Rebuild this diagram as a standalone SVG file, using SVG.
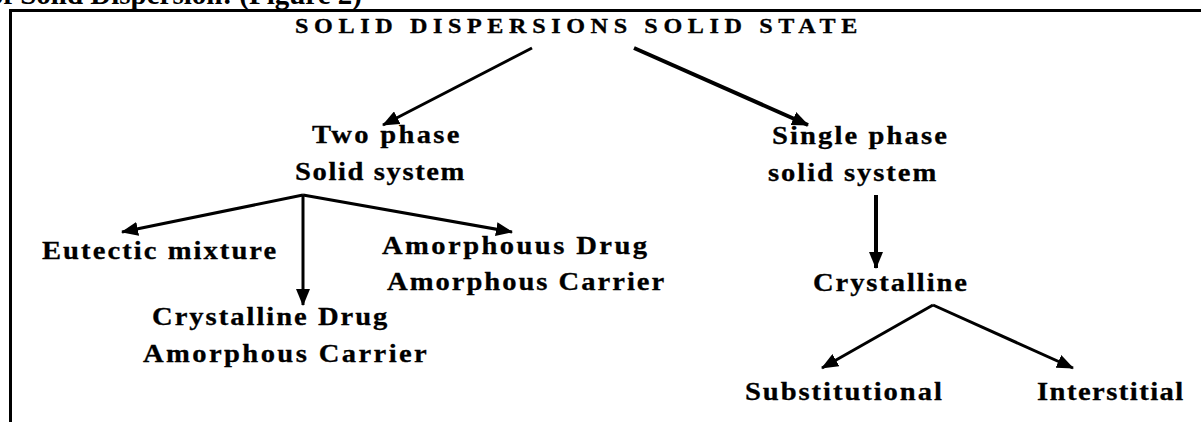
<svg xmlns="http://www.w3.org/2000/svg" width="1201" height="422" viewBox="0 0 1201 422">
<style>
text{font-family:"Liberation Serif","Times New Roman",serif;font-weight:bold;fill:#000}
.t{font-size:26px;stroke:#000;stroke-width:0.3}
.h{font-size:21px;stroke:#000;stroke-width:0.3}
.cap{font-size:29px}
.c{stroke:#000;fill:none;stroke-width:3}
.w{stroke-width:4}
</style>
<defs>
<marker id="ah" markerUnits="userSpaceOnUse" markerWidth="17" markerHeight="14" refX="16" refY="7" orient="auto">
<path d="M0,0 L17,7 L0,14 z" fill="#000"/>
</marker>
</defs>
<rect width="1201" height="422" fill="#fff"/>
<text class="cap" x="362" y="4" text-anchor="end">of Solid Dispersion: (Figure 2)</text>
<path d="M10.5,440 V10.5 H1210" stroke="#000" stroke-width="3" fill="none"/>
<g id="connectors">
<line class="c" x1="532" y1="48" x2="383" y2="125" marker-end="url(#ah)"/>
<line class="c w" x1="634" y1="48" x2="808" y2="125" marker-end="url(#ah)"/>
<line class="c" x1="303" y1="195" x2="122" y2="232" marker-end="url(#ah)"/>
<line class="c" x1="303" y1="195" x2="303" y2="305" marker-end="url(#ah)"/>
<line class="c" x1="303" y1="195" x2="512" y2="232" marker-end="url(#ah)"/>
<line class="c w" x1="876" y1="195" x2="876" y2="268" marker-end="url(#ah)"/>
<line class="c" x1="933" y1="305" x2="822" y2="368" marker-end="url(#ah)"/>
<line class="c" x1="933" y1="305" x2="1073" y2="368" marker-end="url(#ah)"/>
</g>
<g id="root"><text class="h" transform="translate(295 33) scale(1.15 1)" x="0" y="0" textLength="489" lengthAdjust="spacing">SOLID DISPERSIONS SOLID STATE</text></g>
<g id="two-phase">
<text class="t" transform="translate(312 143) scale(1.1 1)" x="0" y="0" textLength="134" lengthAdjust="spacing">Two phase</text>
<text class="t" transform="translate(295 180) scale(1.1 1)" x="0" y="0" textLength="154" lengthAdjust="spacing">Solid system</text>
</g>
<g id="single-phase">
<text class="t" transform="translate(772 144) scale(1.1 1)" x="0" y="0" textLength="159" lengthAdjust="spacing">Single phase</text>
<text class="t" transform="translate(768 181) scale(1.1 1)" x="0" y="0" textLength="153" lengthAdjust="spacing">solid system</text>
</g>
<g id="eutectic"><text class="t" transform="translate(42 259) scale(1.1 1)" x="0" y="0" textLength="213" lengthAdjust="spacing">Eutectic mixture</text></g>
<g id="crystalline-drug">
<text class="t" transform="translate(152 325) scale(1.1 1)" x="0" y="0" textLength="214" lengthAdjust="spacing">Crystalline Drug</text>
<text class="t" transform="translate(143 362) scale(1.1 1)" x="0" y="0" textLength="258" lengthAdjust="spacing">Amorphous Carrier</text>
</g>
<g id="amorphous-drug">
<text class="t" transform="translate(382 254) scale(1.1 1)" x="0" y="0" textLength="241" lengthAdjust="spacing">Amorphouus Drug</text>
<text class="t" transform="translate(387 290) scale(1.1 1)" x="0" y="0" textLength="252" lengthAdjust="spacing">Amorphous Carrier</text>
</g>
<g id="crystalline"><text class="t" transform="translate(813 291) scale(1.1 1)" x="0" y="0" textLength="140" lengthAdjust="spacing">Crystalline</text></g>
<g id="substitutional"><text class="t" transform="translate(745 400) scale(1.1 1)" x="0" y="0" textLength="179" lengthAdjust="spacing">Substitutional</text></g>
<g id="interstitial"><text class="t" transform="translate(1037 400) scale(1.1 1)" x="0" y="0" textLength="133" lengthAdjust="spacing">Interstitial</text></g>
</svg>
